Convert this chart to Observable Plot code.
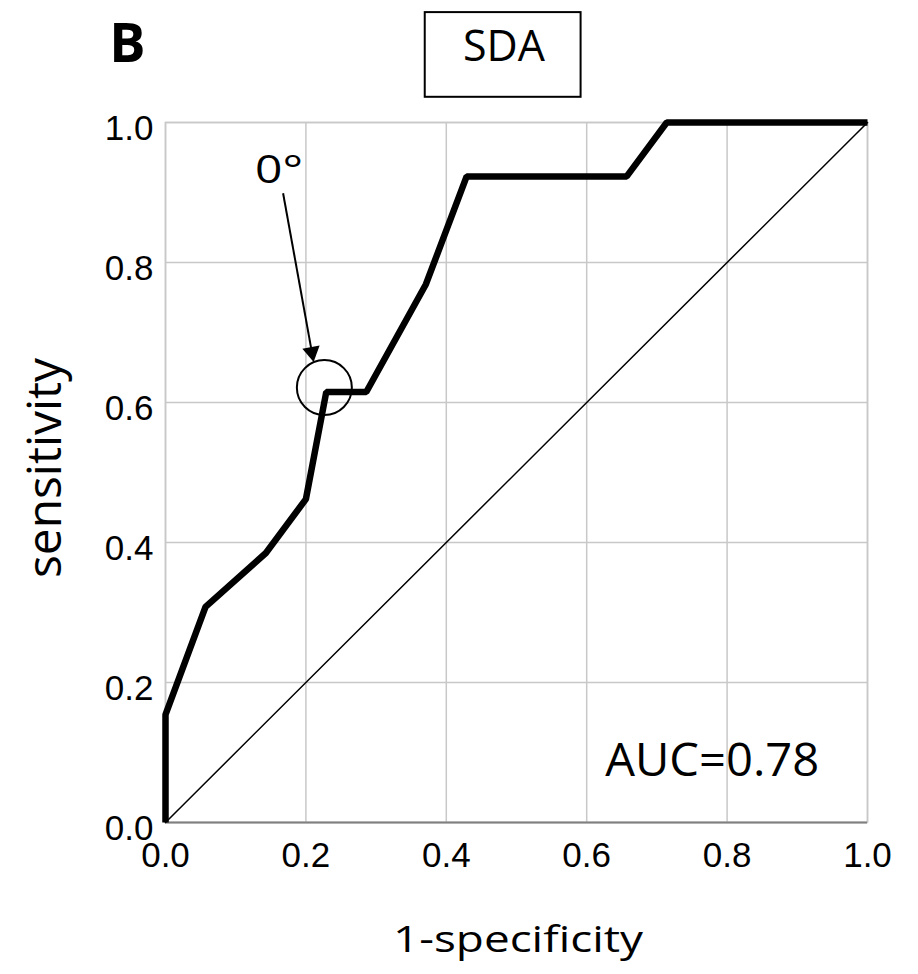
<!DOCTYPE html>
<html>
<head>
<meta charset="utf-8">
<script src="https://cdn.jsdelivr.net/npm/d3@7"></script>
<script src="https://cdn.jsdelivr.net/npm/@observablehq/plot@0.6"></script>
<style>
  html, body { margin: 0; padding: 0; background: #fff; }
</style>
</head>
<body>
<div id="chart"></div>
<script>
// ---- data ----
const fpr = [0, 0, 0.057, 0.143, 0.2, 0.229, 0.286, 0.371, 0.429, 0.657, 0.714, 1];
const tpr = [0, 0.154, 0.308, 0.385, 0.462, 0.615, 0.615, 0.769, 0.923, 0.923, 1, 1];
const refX = [0, 1];
const refY = [0, 1];
const tickValues = [0, 0.2, 0.4, 0.6, 0.8, 1.0];
const tickLabels = ["0.0", "0.2", "0.4", "0.6", "0.8", "1.0"];
const panelLabel = "B";
const titleText = "SDA";
const xLabel = "1-specificity";
const yLabel = "sensitivity";
const aucText = "AUC=0.78";
const cutoffText = "0°";

// ---- annotation anchors (data units) ----
const cutoffCircle = [0.2263, 0.6213];
const arrowFrom = [0.1675, 0.899];
const arrowTo = [0.2085, 0.672];
const cutoffTextPos = [0.1616, 0.9316];
const aucPos = [0.7787, 0.0877];
const titleBox = [0.370, 0.592, 1.036, 1.157];

const rows = fpr.map((x, i) => ({x, y: tpr[i]}));
const ref = refX.map((x, i) => ({x, y: refY[i]}));
const fmt = d => tickLabels[tickValues.findIndex(t => Math.abs(t - d) < 1e-9)];

const label = "Open Sans, Noto Sans, sans-serif";
const mid = {textAnchor: "middle", lineAnchor: "middle", fill: "#000", fontFamily: label};

const svg = Plot.plot({
  width: 918,
  height: 974,
  marginLeft: 165,
  marginRight: 51,
  marginTop: 122,
  marginBottom: 152,
  style: {fontFamily: "Liberation Sans, Arial, sans-serif", fontSize: "35px", background: "#fff", color: "#000"},
  x: {domain: [0, 1]},
  y: {domain: [0, 1]},
  marks: [
    Plot.gridX({ticks: tickValues, stroke: "#c8c8c8", strokeOpacity: 1, strokeWidth: 1.5}),
    Plot.gridY({ticks: tickValues, stroke: "#c8c8c8", strokeOpacity: 1, strokeWidth: 1.5}),
    Plot.frame({stroke: "#c8c8c8", strokeWidth: 1.5}),
    Plot.ruleY([0], {stroke: "#808080", strokeWidth: 2}),
    Plot.axisX({ticks: tickValues, tickFormat: fmt, tickSize: 0, tickPadding: 20, label: null, fontSize: 35}),
    Plot.axisY({ticks: tickValues, tickFormat: fmt, tickSize: 0, tickPadding: 12, dy: 6, label: null, fontSize: 35}),
    Plot.line(ref, {x: "x", y: "y", stroke: "#000", strokeWidth: 1.5}),
    Plot.line(rows, {x: "x", y: "y", stroke: "#000", strokeWidth: 6.5, strokeLinejoin: "miter", strokeLinecap: "butt"}),
    Plot.dot([cutoffCircle], {x: d => d[0], y: d => d[1], r: 27.5, stroke: "#000", strokeWidth: 2, fill: "none"}),
    Plot.link([0], {x1: () => arrowFrom[0], y1: () => arrowFrom[1], x2: () => arrowTo[0], y2: () => arrowTo[1], stroke: "#000", strokeWidth: 2}),
    Plot.dot([arrowTo], {x: d => d[0], y: d => d[1], symbol: "triangle", r: 6.5, fill: "#000", stroke: "none", rotate: 170}),
    Plot.rect([titleBox], {x1: d => d[0], x2: d => d[1], y1: d => d[2], y2: d => d[3], fill: "none", stroke: "#000", strokeWidth: 2}),
    Plot.text([titleText], {...mid, frameAnchor: "top", dx: -12.5, dy: -75, fontSize: 43}),
    Plot.text([panelLabel], {...mid, frameAnchor: "top-left", dx: -38, dy: -78, fontSize: 54, fontWeight: "bold"}),
    Plot.text([cutoffText], {...mid, x: () => cutoffTextPos[0], y: () => cutoffTextPos[1], fontSize: 39}),
    Plot.text([aucText], {...mid, x: () => aucPos[0], y: () => aucPos[1], fontSize: 45}),
    Plot.text([xLabel], {...mid, frameAnchor: "bottom", dx: 1.5, dy: 118, fontSize: 37}),
    Plot.text([yLabel], {...mid, frameAnchor: "left", dx: -120, dy: -4.5, rotate: -90, fontSize: 47})
  ]
});

// stretch horizontal labels to the reference's wide lettering
const stretch = {"1-specificity": 250, "AUC=0.78": 214, "0°": 48, "sensitivity": 220};
svg.querySelectorAll("text").forEach(t => {
  const k = t.textContent;
  if (stretch[k] && t.children.length === 0) {
    t.setAttribute("textLength", stretch[k]);
    t.setAttribute("lengthAdjust", "spacingAndGlyphs");
  }
});

document.getElementById("chart").appendChild(svg);
</script>
</body>
</html>
